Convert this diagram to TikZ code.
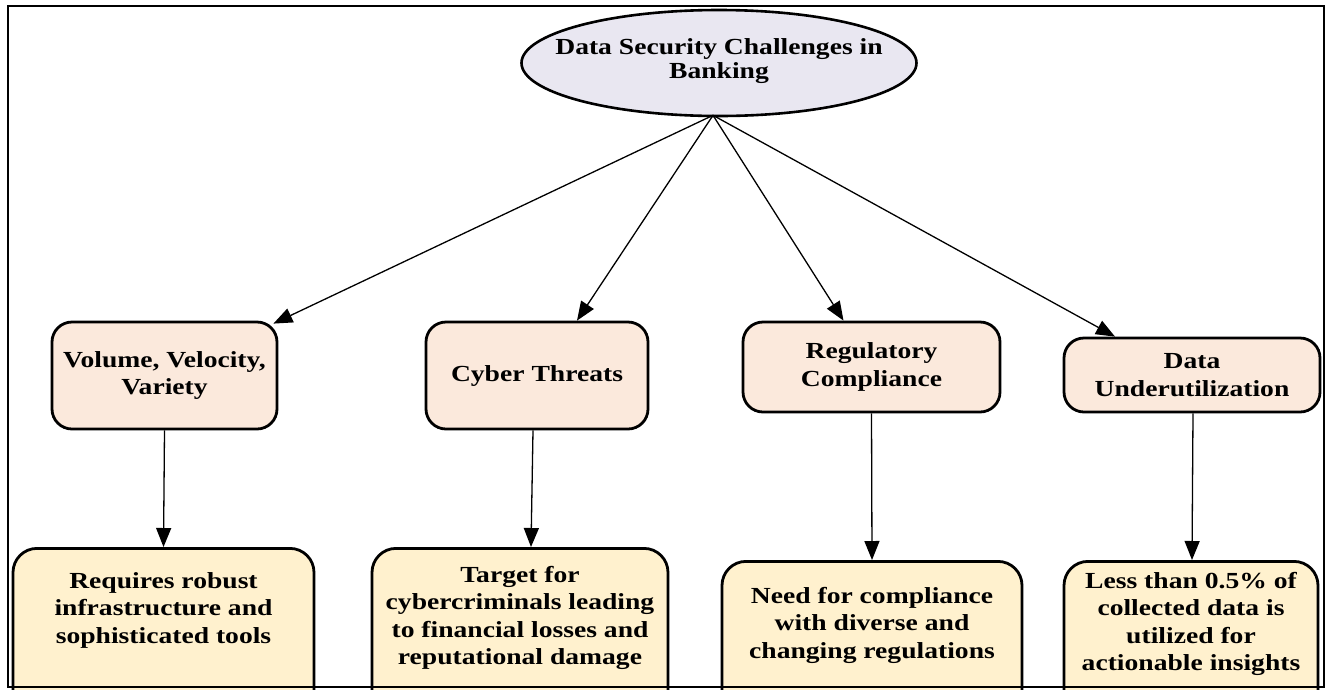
\documentclass[tikz,border=0pt]{standalone}
\usepackage{fontspec}
\setmainfont{Liberation Serif}[FakeStretch=1.2]
\usetikzlibrary{shapes.geometric,arrows.meta,calc}
\definecolor{ovalfill}{HTML}{E9E7F1}
\definecolor{topfill}{HTML}{FBE9DC}
\definecolor{lowfill}{HTML}{FFF1CE}
\tikzset{
  txt/.style={font=\bfseries\fontsize{23pt}{27.5pt}\selectfont, align=center, text=black},
  oval/.style={ellipse, draw, line width=2.6pt, fill=ovalfill, inner sep=0pt},
  ovaltxt/.style={font=\bfseries\fontsize{23pt}{24pt}\selectfont, align=center, text=black},
  topbox/.style={draw, line width=2.8pt, fill=topfill, rounded corners=20pt,
    inner sep=0pt, txt},
  lowbox/.style={draw, line width=2.8pt, fill=lowfill, rounded corners=24pt,
    inner sep=0pt, anchor=north, minimum height=200pt},
  link/.style={line width=1.3pt, -{Triangle[length=19pt,width=15pt]}},
  frame/.style={line width=2.2pt}
}
\begin{document}
\begin{tikzpicture}[x=1pt, y=-1pt]
  \useasboundingbox (0,0) rectangle (1327,689);
  \clip (0,0) rectangle (1327,689);

  % root
  \node[oval, minimum width=395pt, minimum height=106pt] (root) at (719,63) {};
  \node[ovaltxt] (roottxt) at (719,61) {Data Security Challenges in\\Banking};

  % challenge boxes
  \node[topbox, minimum width=225pt, minimum height=107pt] (vol) at (164.5,375.5)
    {Volume, Velocity,\\Variety};
  \node[topbox, minimum width=222pt, minimum height=107pt] (cyb) at (537,375.5)
    {Cyber Threats};
  \node[topbox, minimum width=257pt, minimum height=90pt] (reg) at (871.5,367)
    {Regulatory\\Compliance};
  \node[topbox, minimum width=256pt, minimum height=74pt] (und) at (1192,375)
    {Data\\Underutilization};

  % detail boxes
  \node[lowbox, minimum width=301pt] (volx) at (163.5,547) {};
  \node[lowbox, minimum width=296pt] (cybx) at (520,547) {};
  \node[lowbox, minimum width=300pt] (regx) at (872,560) {};
  \node[lowbox, minimum width=254pt] (undx) at (1191,560) {};

  \node[txt] (volt) at (163.5,610) {Requires robust\\infrastructure and\\sophisticated tools};
  \node[txt] (cybt) at (520,618) {Target for\\cybercriminals leading\\to financial losses and\\reputational damage};
  \node[txt] (regt) at (872,625) {Need for compliance\\with diverse and\\changing regulations};
  \node[txt] (undt) at (1191,624) {Less than 0.5\% of\\collected data is\\utilized for\\actionable insights};

  % connectors
  \coordinate (hub) at ([xshift=-6pt,yshift=2pt]root.south);
  \draw[link] (hub) -- ([xshift=-5pt,yshift=-3pt]vol.north east);
  \draw[link] (hub) -- ([xshift=40pt]cyb.north);
  \draw[link] (hub) -- ([xshift=-28pt]reg.north);
  \draw[link] (hub) -- ([xshift=-77pt]und.north);

  \draw[link] (vol.south) -- (volx.north);
  \draw[link] ([xshift=-4pt]cyb.south) -- ([xshift=11pt]cybx.north);
  \draw[link] (reg.south) -- (regx.north);
  \draw[link] ([xshift=1pt]und.south) -- ([xshift=1pt]undx.north);

  % outer frame
  \draw[frame] (8,6) rectangle (1324,687);
\end{tikzpicture}
\end{document}
